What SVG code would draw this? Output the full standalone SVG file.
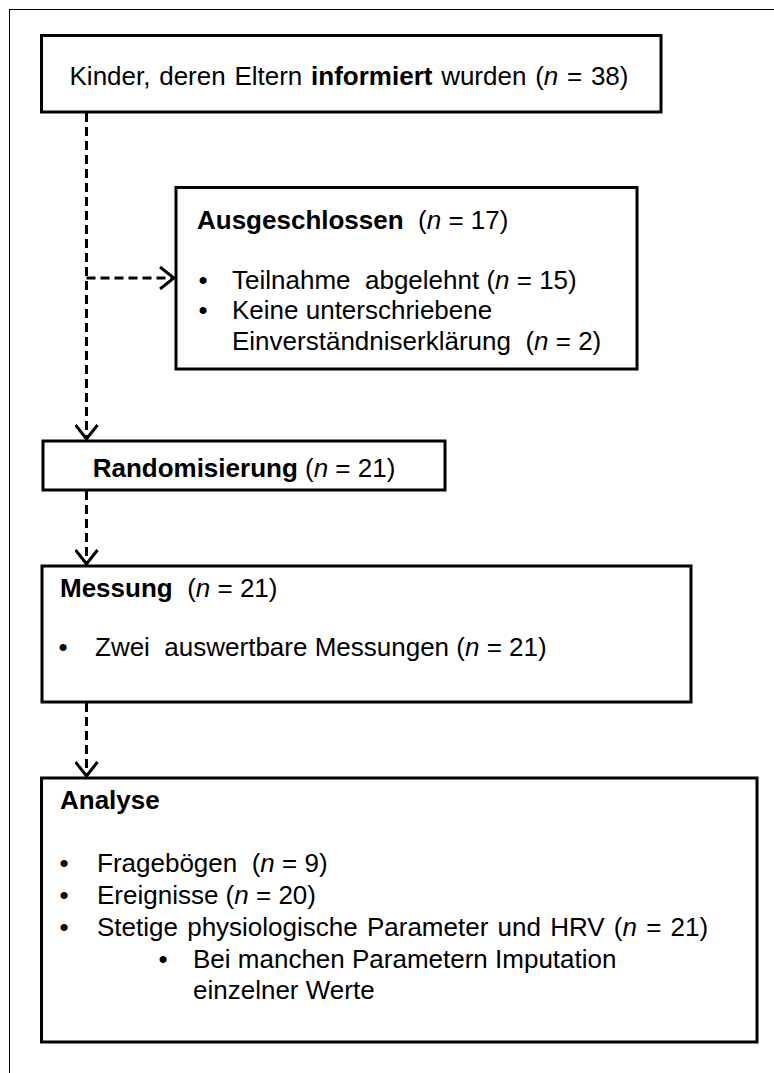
<svg xmlns="http://www.w3.org/2000/svg" width="774" height="1073" viewBox="0 0 774 1073">
<style>
.box{fill:#fff;stroke:#000;stroke-width:3}
.t{font-family:"Liberation Sans",Arial,sans-serif;font-size:26px;fill:#000}
.b{font-weight:bold}
.i{font-style:italic}
.c{fill:none;stroke:#000;stroke-width:3;stroke-dasharray:9 5}
</style>
<defs>
<marker id="arr" viewBox="0 0 16 24" refX="15" refY="12" markerWidth="16" markerHeight="24" orient="auto" markerUnits="userSpaceOnUse">
<path d="M1,1 L15,12 L1,23" fill="none" stroke="#000" stroke-width="3"/>
</marker>
</defs>
<rect x="9.5" y="9.5" width="775" height="1075" fill="#fff" stroke="#000" stroke-width="1"/>
<g id="connectors">
<path class="c" d="M86.5,113 V439" marker-end="url(#arr)"/>
<path class="c" d="M86.5,278 H174" marker-end="url(#arr)"/>
<path class="c" d="M86.5,491 V564" marker-end="url(#arr)"/>
<path class="c" d="M86.5,703 V776" marker-end="url(#arr)"/>
</g>
<g id="informiert">
<rect class="box" x="41.5" y="35.5" width="619.5" height="76.5"/>
<text class="t" x="349" y="85" text-anchor="middle" word-spacing="1.5" xml:space="preserve">Kinder, deren Eltern <tspan class="b">informiert</tspan> wurden (<tspan class="i">n</tspan> = 38)</text>
</g>
<g id="ausgeschlossen">
<rect class="box" x="176" y="187.5" width="461" height="181.5"/>
<text class="t" x="197" y="229" xml:space="preserve"><tspan class="b">Ausgeschlossen</tspan>  (<tspan class="i">n</tspan> = 17)</text>
<text class="t" x="203" y="289" text-anchor="middle">•</text>
<text class="t" x="232" y="289" xml:space="preserve">Teilnahme  abgelehnt (<tspan class="i">n</tspan> = 15)</text>
<text class="t" x="203" y="319" text-anchor="middle">•</text>
<text class="t" x="232" y="319">Keine unterschriebene</text>
<text class="t" x="232" y="350" xml:space="preserve">Einverständniserklärung  (<tspan class="i">n</tspan> = 2)</text>
</g>
<g id="randomisierung">
<rect class="box" x="43" y="441" width="402" height="49"/>
<text class="t" x="244" y="477" text-anchor="middle" xml:space="preserve"><tspan class="b">Randomisierung</tspan> (<tspan class="i">n</tspan> = 21)</text>
</g>
<g id="messung">
<rect class="box" x="42" y="566" width="649" height="136"/>
<text class="t" x="60" y="597" xml:space="preserve"><tspan class="b">Messung</tspan>  (<tspan class="i">n</tspan> = 21)</text>
<text class="t" x="63" y="656" text-anchor="middle">•</text>
<text class="t" x="95" y="656" xml:space="preserve">Zwei  auswertbare Messungen (<tspan class="i">n</tspan> = 21)</text>
</g>
<g id="analyse">
<rect class="box" x="41.5" y="778" width="715.5" height="264"/>
<text class="t b" x="60" y="809">Analyse</text>
<text class="t" x="64" y="872" text-anchor="middle">•</text>
<text class="t" x="97" y="872" xml:space="preserve">Fragebögen  (<tspan class="i">n</tspan> = 9)</text>
<text class="t" x="64" y="904" text-anchor="middle">•</text>
<text class="t" x="97" y="904" xml:space="preserve">Ereignisse (<tspan class="i">n</tspan> = 20)</text>
<text class="t" x="64" y="936" text-anchor="middle">•</text>
<text class="t" x="97" y="936" word-spacing="2" xml:space="preserve">Stetige physiologische Parameter und HRV (<tspan class="i">n</tspan> = 21)</text>
<text class="t" x="163" y="968" text-anchor="middle">•</text>
<text class="t" x="193" y="968" xml:space="preserve">Bei manchen Parametern Imputation</text>
<text class="t" x="193" y="999">einzelner Werte</text>
</g>
</svg>
